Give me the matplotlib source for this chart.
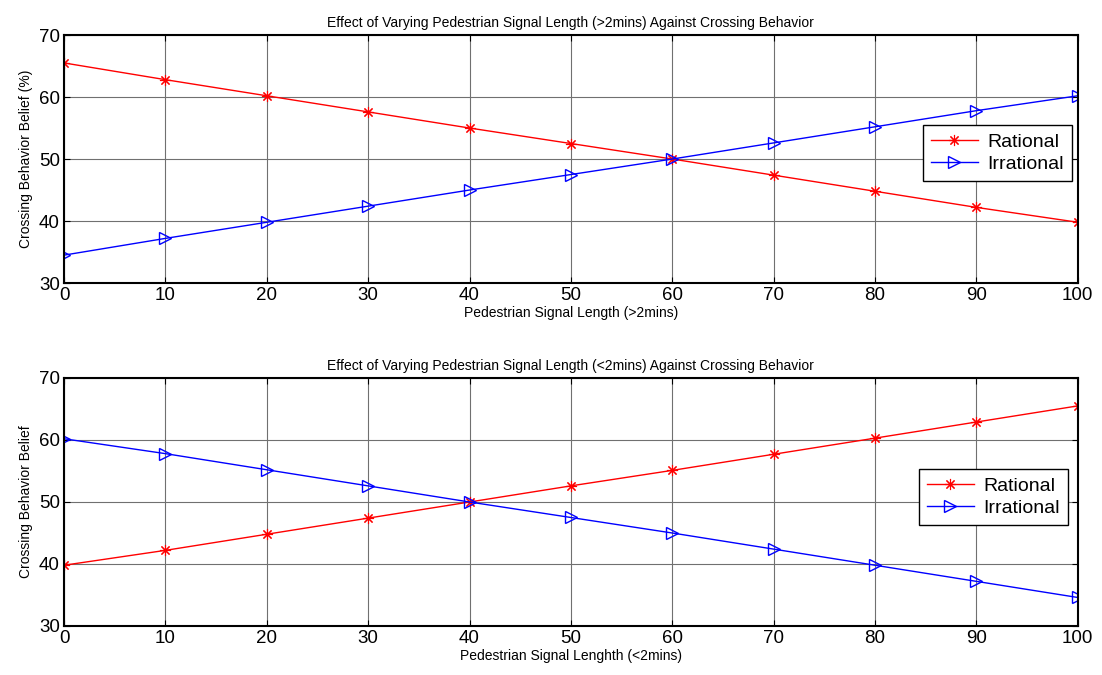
import matplotlib
matplotlib.use("Agg")
import matplotlib.pyplot as plt

x = [0, 10, 20, 30, 40, 50, 60, 70, 80, 90, 100]
top_rational = [65.5, 62.8, 60.2, 57.6, 55.0, 52.5, 50.0, 47.4, 44.8, 42.2, 39.8]
top_irrational = [34.5, 37.2, 39.8, 42.4, 45.0, 47.5, 50.0, 52.6, 55.2, 57.8, 60.2]
bot_rational = [39.8, 42.2, 44.8, 47.4, 50.0, 52.6, 55.1, 57.7, 60.3, 62.9, 65.5]
bot_irrational = [60.2, 57.8, 55.2, 52.6, 50.0, 47.5, 45.0, 42.4, 39.8, 37.2, 34.6]
xticks = [0, 10, 20, 30, 40, 50, 60, 70, 80, 90, 100]
yticks = [30, 40, 50, 60, 70]

plt.rcParams['font.family'] = ['Liberation Sans', 'DejaVu Sans']

fig = plt.figure(figsize=(11.02, 6.75), dpi=100)
ax1 = fig.add_axes([0.0581, 0.5807, 0.9199, 0.3674])
ax2 = fig.add_axes([0.0581, 0.0726, 0.9199, 0.3674])

configs = [
    (ax1, top_rational, top_irrational,
     'Effect of Varying Pedestrian Signal Length (>2mins) Against Crossing Behavior',
     'Pedestrian Signal Length (>2mins)', 'Crossing Behavior Belief (%)',
     (0.994, 0.524)),
    (ax2, bot_rational, bot_irrational,
     'Effect of Varying Pedestrian Signal Length (<2mins) Against Crossing Behavior',
     'Pedestrian Signal Lenghth (<2mins)', 'Crossing Behavior Belief',
     (0.990, 0.52)),
]

for ax, r, i, title, xl, yl, lpos in configs:
    ax.plot(x, r, color='red', marker=(8, 2, 0), markersize=8, linewidth=1,
            markerfacecolor='none', markeredgecolor='red', markeredgewidth=0.8, label='Rational')
    ax.plot(x, i, color='blue', marker='>', markersize=9, linewidth=1,
            markerfacecolor='none', markeredgecolor='blue', markeredgewidth=1, label='Irrational')
    ax.set_xlim(0, 100)
    ax.set_ylim(30, 70)
    ax.set_xticks(xticks)
    ax.set_yticks(yticks)
    ax.grid(True, color='#707070', linewidth=0.8, linestyle='-')
    ax.tick_params(direction='in', top=True, right=True, labelsize=13.5, length=4, pad=3)
    for s in ax.spines.values():
        s.set_linewidth(1.5)
    ax.set_title(title, fontsize=10, pad=6)
    ax.set_xlabel(xl, fontsize=10, labelpad=1)
    ax.set_ylabel(yl, fontsize=10, labelpad=4)
    leg = ax.legend(loc='center right', bbox_to_anchor=lpos, fontsize=14,
                    frameon=True, fancybox=False, edgecolor='black', framealpha=1,
                    handlelength=2.4, borderpad=0.4, labelspacing=0.25, borderaxespad=0,
                    handletextpad=0.5)
    leg.get_frame().set_linewidth(1.0)

fig.savefig('out.png', dpi=100)
